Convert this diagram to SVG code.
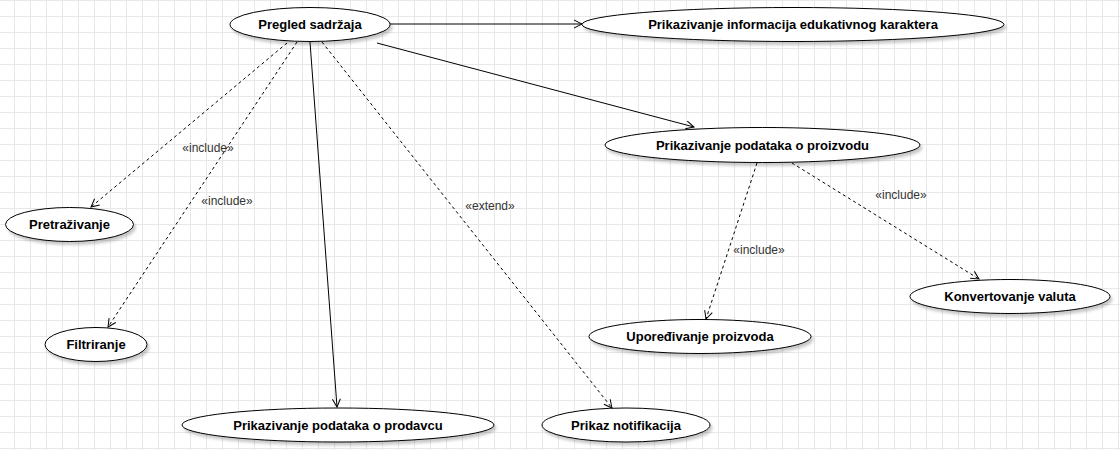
<svg xmlns="http://www.w3.org/2000/svg" width="1120" height="450" viewBox="0 0 1120 450">
  <defs>
    <pattern id="grid" x="14" y="0" width="16" height="16" patternUnits="userSpaceOnUse">
      <path d="M0 0.5H16M0.5 0V16" fill="none" stroke="#e8e8e8" stroke-width="1"/>
    </pattern>
    <filter id="shadow" x="-10%" y="-30%" width="125%" height="180%">
      <feDropShadow dx="2" dy="3" stdDeviation="1.5" flood-color="#000" flood-opacity="0.22"/>
    </filter>
    <marker id="open" viewBox="0 0 10 10" markerWidth="10" markerHeight="10" refX="9" refY="5" orient="auto" markerUnits="userSpaceOnUse">
      <path d="M1,1 L9,5 L1,9" fill="none" stroke="#000" stroke-width="1"/>
    </marker>
  </defs>
  <style>
    .uc ellipse { fill: #fff; stroke: #000; stroke-width: 1; filter: url(#shadow); }
    .uc text { font-family: "Liberation Sans", Arial, sans-serif; font-size: 13px; font-weight: bold; fill: #000; text-anchor: middle; }
    .assoc { fill: none; stroke: #000; stroke-width: 1; marker-end: url(#open); }
    .dep { fill: none; stroke: #000; stroke-width: 1; stroke-dasharray: 3 3; marker-end: url(#open); }
    .lbl { font-family: "Liberation Sans", Arial, sans-serif; font-size: 12px; fill: #333; text-anchor: middle; }
  </style>
  <rect width="1120" height="450" fill="#fff"/>
  <rect width="1120" height="450" fill="url(#grid)"/>

  <g id="connectors">
    <path class="assoc" d="M390,24 L582,24"/>
    <path class="assoc" d="M377,43 L694,127"/>
    <path class="assoc" d="M310,42 L337,407"/>
    <path class="dep" d="M287,43 L91,207"/>
    <path class="dep" d="M297,42 L108,327"/>
    <path class="dep" d="M322,42 L612,408"/>
    <path class="dep" d="M757,163 L706,319"/>
    <path class="dep" d="M792,163 L979,279"/>
    <text class="lbl" x="208" y="152">«include»</text>
    <text class="lbl" x="227" y="205">«include»</text>
    <text class="lbl" x="490" y="210">«extend»</text>
    <text class="lbl" x="759" y="254">«include»</text>
    <text class="lbl" x="901" y="199">«include»</text>
  </g>

  <g id="pregled" class="uc">
    <ellipse cx="310" cy="24.5" rx="80" ry="17"/>
    <text x="310" y="29">Pregled sadržaja</text>
  </g>
  <g id="edukativnog" class="uc">
    <ellipse cx="793" cy="24.5" rx="211" ry="17"/>
    <text x="793" y="29">Prikazivanje informacija edukativnog karaktera</text>
  </g>
  <g id="proizvodu" class="uc">
    <ellipse cx="762.5" cy="145" rx="157.5" ry="17.5"/>
    <text x="762.5" y="149.5">Prikazivanje podataka o proizvodu</text>
  </g>
  <g id="pretrazivanje" class="uc">
    <ellipse cx="69.5" cy="224.5" rx="64" ry="17"/>
    <text x="69.5" y="229">Pretraživanje</text>
  </g>
  <g id="filtriranje" class="uc">
    <ellipse cx="96" cy="344.5" rx="51" ry="17"/>
    <text x="96" y="349">Filtriranje</text>
  </g>
  <g id="prodavcu" class="uc">
    <ellipse cx="338" cy="425" rx="156" ry="17"/>
    <text x="338" y="429.5">Prikazivanje podataka o prodavcu</text>
  </g>
  <g id="notifikacija" class="uc">
    <ellipse cx="626" cy="425" rx="84" ry="17"/>
    <text x="626" y="429.5">Prikaz notifikacija</text>
  </g>
  <g id="uporedjivanje" class="uc">
    <ellipse cx="700" cy="336.5" rx="111" ry="17"/>
    <text x="700" y="341">Upoređivanje proizvoda</text>
  </g>
  <g id="konvertovanje" class="uc">
    <ellipse cx="1010" cy="296.5" rx="100" ry="17"/>
    <text x="1010" y="301">Konvertovanje valuta</text>
  </g>
</svg>
